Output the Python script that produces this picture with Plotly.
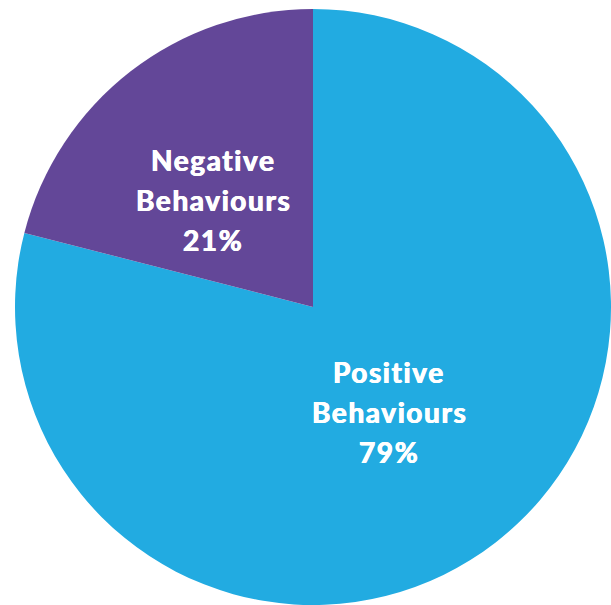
import plotly.graph_objects as go

# Share of observed behaviours
labels = ["Positive Behaviours", "Negative Behaviours"]
values = [79, 21]
colors = ["#22ABE1", "#634798"]

W, H = 611, 605
# Pie placement (pixels): left edge and top edge of the pie's square domain
PIE_LEFT, PIE_TOP = 15, 9
SIZE = W - PIE_LEFT  # square domain side
cx_px = PIE_LEFT + SIZE / 2
cy_px = PIE_TOP + SIZE / 2

fig = go.Figure(
    go.Pie(
        labels=labels,
        values=values,
        marker=dict(colors=colors, line=dict(width=0)),
        sort=False,
        direction="counterclockwise",
        rotation=0,
        textinfo="none",
        hoverinfo="label+percent",
        showlegend=False,
        domain=dict(x=[PIE_LEFT / W, 1], y=[(H - PIE_TOP - SIZE) / H, (H - PIE_TOP) / H]),
    )
)

# Label block centres, as pixel offsets from the pie centre (right, up)
label_offsets = [(76, -105), (-100, 107)]
LINE_GAP = 40
FONT = dict(
    family="Lato, Noto Sans, sans-serif",
    size=28,
    color="white",
    weight=700,
    shadow="0.5px 0 0 white, -0.5px 0 0 white",
)

total = sum(values)
annotations = []
for lab, val, (dx, dy) in zip(labels, values, label_offsets):
    pct = round(100 * val / total)
    lines = lab.split(" ") + [f"{pct}%"]
    mid = (len(lines) - 1) / 2
    for i, line in enumerate(lines):
        px = cx_px + dx
        py = cy_px - dy + (i - mid) * LINE_GAP
        annotations.append(
            dict(
                x=px / W,
                y=1 - py / H,
                xref="paper",
                yref="paper",
                text=f'<span style="letter-spacing:1.6px">{line}</span>',
                showarrow=False,
                xanchor="center",
                yanchor="middle",
                font=FONT,
            )
        )

fig.update_layout(
    width=W,
    height=H,
    margin=dict(l=0, r=0, t=0, b=0),
    paper_bgcolor="white",
    plot_bgcolor="white",
    annotations=annotations,
)

fig.write_html("out.html")
